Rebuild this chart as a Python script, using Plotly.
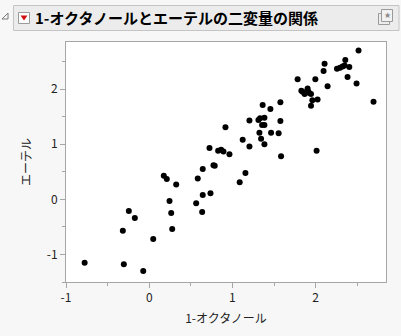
import plotly.graph_objects as go

# 1-オクタノール (x) and エーテル (y) values
octanol = [2.515, 2.356, 2.107, 2.256, 2.292, 2.323, 2.347, 2.404, 2.095, 2.383,
           2.491, 2.695, 1.783, 1.996, 2.143, 1.828, 1.843, 1.867, 1.903, 1.908,
           1.924, 1.944, 1.960, 2.023, 1.944, 1.363, 1.576, 1.456, 1.204, 1.312,
           1.332, 1.384, 1.356, 1.384, 1.576, 0.916, 1.324, 1.464, 1.555, 1.123,
           1.344, 1.384, 1.204, 0.864, 0.892, 0.964, 2.011, 1.584, 0.724, 0.828,
           0.772, 0.643, 0.787, 0.583, 0.175, 0.211, 0.324, 0.736, 0.643, 0.244,
           0.564, 0.264, 0.636, -0.245, -0.173, -0.317, 0.276, 0.048, -0.776, -0.305,
           -0.072, 1.156, 1.087]
ether = [2.70, 2.53, 2.46, 2.37, 2.39, 2.41, 2.43, 2.40, 2.33, 2.22,
         2.10, 1.77, 2.18, 2.18, 2.05, 1.97, 1.95, 1.91, 2.01, 1.96,
         1.93, 1.91, 1.80, 1.81, 1.70, 1.71, 1.76, 1.64, 1.43, 1.44,
         1.47, 1.48, 1.35, 1.35, 1.42, 1.31, 1.21, 1.21, 1.20, 1.08,
         1.10, 1.00, 0.96, 0.90, 0.87, 0.82, 0.88, 0.78, 0.93, 0.88,
         0.62, 0.55, 0.61, 0.38, 0.43, 0.37, 0.27, 0.11, 0.08, -0.03,
         -0.07, -0.25, -0.23, -0.21, -0.34, -0.57, -0.54, -0.72, -1.15, -1.18,
         -1.30, 0.48, 0.31]

x_ticks = [-1, 0, 1, 2]
y_ticks = [-1, 0, 1, 2]
title_text = "1-オクタノールとエーテルの二変量の関係"
x_title = "1-オクタノール"
y_title = "エーテル"

W, H = 401, 336
L, R, T, B = 66, 15, 42, 54
pw, ph = W - L - R, H - T - B


def px(x):
    return (x - L) / pw


def py(y):
    return (H - B - y) / ph


FONT = "Noto Sans CJK JP"
AXC = "#a6a6a6"

fig = go.Figure()
fig.add_trace(go.Scatter(
    x=octanol, y=ether, mode="markers",
    marker=dict(color="black", size=6, line=dict(width=0)),
    hoverinfo="skip", showlegend=False))

axis_common = dict(
    showgrid=False, zeroline=False, showline=True, mirror=True,
    linecolor=AXC, linewidth=1, ticks="outside", ticklen=5, tickwidth=1,
    tickcolor=AXC, tickfont=dict(family=FONT, size=12, color="#222222"),
    minor=dict(ticks="outside", ticklen=3, tickcolor=AXC, dtick=0.5, showgrid=False),
)

fig.update_layout(
    width=W, height=H,
    margin=dict(l=L, r=R, t=T, b=B, pad=0),
    paper_bgcolor="#f7f7f7", plot_bgcolor="white",
    font=dict(family=FONT),
    xaxis=dict(range=[-1, 2.845], tickvals=x_ticks, ticktext=[str(v) for v in x_ticks],
               title=dict(text=x_title, font=dict(family=FONT, size=12, color="#222222"), standoff=10),
               **axis_common),
    yaxis=dict(range=[-1.5, 2.855], tickvals=y_ticks, ticktext=[str(v) for v in y_ticks],
               title=dict(text=y_title, font=dict(family=FONT, size=12, color="#222222"), standoff=12),
               **axis_common),
)

shapes = [
    # title bar
    dict(type="rect", xref="paper", yref="paper",
         x0=px(13.5), x1=px(399), y0=py(30.5), y1=py(5.5),
         fillcolor="#ececec", line=dict(color="#c4c4c4", width=1), layer="below"),
    # red dropdown icon box
    dict(type="rect", xref="paper", yref="paper",
         x0=px(18.5), x1=px(29.5), y0=py(23.5), y1=py(12.5),
         fillcolor="white", line=dict(color="#9a9a9a", width=1)),
    dict(type="path", xref="paper", yref="paper",
         path=f"M {px(20.5)},{py(15.5)} L {px(27.5)},{py(15.5)} L {px(24)},{py(20.5)} Z",
         fillcolor="#d01010", line=dict(color="#d01010", width=0)),
    # disclosure triangle
    dict(type="path", xref="paper", yref="paper",
         path=f"M {px(8)},{py(13)} L {px(8)},{py(19)} L {px(2)},{py(19)} Z",
         fillcolor="rgba(0,0,0,0)", line=dict(color="#7a7a7a", width=1)),
    # right icon
    dict(type="rect", xref="paper", yref="paper",
         x0=px(378.5), x1=px(389.5), y0=py(24.5), y1=py(13.5),
         fillcolor="rgba(0,0,0,0)", line=dict(color="#9a9a9a", width=1)),
    dict(type="rect", xref="paper", yref="paper",
         x0=px(381.5), x1=px(392.5), y0=py(21.5), y1=py(9.5),
         fillcolor="#f2f2f2", line=dict(color="#9a9a9a", width=1)),
]
fig.update_layout(shapes=shapes)

fig.add_annotation(xref="paper", yref="paper", x=px(33), y=py(17.5),
                   xanchor="left", yanchor="middle", showarrow=False,
                   text=f"<b>{title_text}</b>",
                   font=dict(family=FONT, size=15, color="black"))
fig.add_annotation(xref="paper", yref="paper", x=px(387), y=py(15.5),
                   xanchor="center", yanchor="middle", showarrow=False,
                   text="★", font=dict(family="DejaVu Sans", size=8, color="#8a8a8a"))

fig.write_html("out.html")
